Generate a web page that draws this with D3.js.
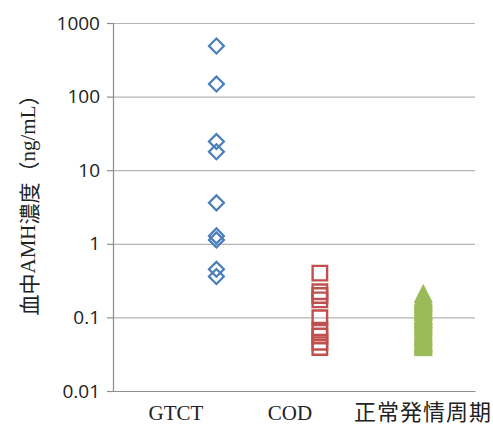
<!DOCTYPE html>
<html>
<head>
<meta charset="utf-8">
<script src="https://cdn.jsdelivr.net/npm/d3@7"></script>
<style>
  html, body { margin: 0; padding: 0; background: #fff; }
  svg { display: block; }
</style>
</head>
<body>
<svg id="chart" width="493" height="426"></svg>
<script>
// Group labels and their x positions on the numeric x axis
const groups = ["GTCT", "COD", "正常発情周期"];
const groupX = [1, 2, 3];

// Serum AMH concentrations (ng/mL) per group
const gtctValues = [487, 148, 24.5, 17.8, 3.6, 1.28, 1.13, 0.45, 0.36];
const codValues = [0.40, 0.223, 0.198, 0.173, 0.099, 0.067, 0.056, 0.046, 0.039];
const normalValues = [0.21, 0.19, 0.18, 0.17, 0.16, 0.15, 0.14, 0.13, 0.125, 0.12,
  0.11, 0.105, 0.10, 0.095, 0.09, 0.085, 0.08, 0.075, 0.07, 0.065, 0.06, 0.057,
  0.054, 0.05, 0.047, 0.045, 0.043, 0.04];

// Log axis ticks
const yTicks = [0.01, 0.1, 1, 10, 100, 1000];
const yTickLabels = ["0.01", "0.1", "1", "10", "100", "1000"];

const svg = d3.select("#chart");
const plot = { left: 113, right: 475, top: 23, bottom: 391 };

const x = d3.scaleLinear().domain([0, 3.5]).range([plot.left, plot.right]);
const y = d3.scaleLog().domain([0.01, 1000]).range([plot.bottom, plot.top]);

// Horizontal gridlines
svg.append("g")
  .attr("transform", `translate(${plot.left},0)`)
  .call(d3.axisLeft(y).tickValues(yTicks.slice(1)).tickSize(-(plot.right - plot.left)).tickFormat(""))
  .call(g => g.select(".domain").remove())
  .call(g => g.selectAll("line").attr("stroke", "#b4b4b4").attr("stroke-width", 1.2));

// Y axis with labels
svg.append("g")
  .attr("transform", `translate(${plot.left},0)`)
  .call(d3.axisLeft(y).tickValues(yTicks).tickSize(6).tickPadding(7)
    .tickFormat((d, i) => yTickLabels[i]))
  .call(g => g.select(".domain").attr("stroke", "#8e8e8e").attr("stroke-width", 1.2))
  .call(g => g.selectAll("line").attr("stroke", "#8e8e8e").attr("stroke-width", 1.2))
  .call(g => g.selectAll("text")
    .attr("fill", "#222")
    .style("font-family", "'Open Sans', sans-serif")
    .style("font-size", "19px"));

// X axis baseline
svg.append("g")
  .attr("transform", `translate(0,${plot.bottom})`)
  .call(d3.axisBottom(x).tickValues([]).tickSizeOuter(0))
  .call(g => g.select(".domain").attr("stroke", "#8e8e8e").attr("stroke-width", 1.2));

// Group labels under the axis
const labelPos = [176, 290, 423];
svg.append("g").selectAll("text")
  .data(groups)
  .join("text")
  .attr("x", (d, i) => labelPos[i])
  .attr("y", 420)
  .attr("text-anchor", "middle")
  .attr("fill", "#222")
  .style("font-family", (d, i) => i < 2 ? "'Liberation Serif', serif" : "'Noto Sans CJK JP', sans-serif")
  .style("font-size", (d, i) => i < 2 ? "21px" : "22px")
  .style("letter-spacing", (d, i) => i < 2 ? "0px" : "1px")
  .text(d => d);

// Y axis title
const title = svg.append("text")
  .attr("transform", "translate(27.5,200) rotate(-90)")
  .attr("text-anchor", "middle")
  .attr("dominant-baseline", "central")
  .attr("fill", "#222")
  .style("font-size", "21px");
const parts = [
  ["血中", "'Noto Sans CJK JP', sans-serif"],
  ["AMH", "'Liberation Serif', serif"],
  ["濃度", "'Noto Sans CJK JP', sans-serif"],
  ["（", "'Noto Sans CJK JP', sans-serif"],
  ["ng/mL", "'Liberation Serif', serif"],
  ["）", "'Noto Sans CJK JP', sans-serif"]
];
parts.forEach(([t, f]) => title.append("tspan").style("font-family", f).text(t));

// Markers
const diamond = d3.symbol().type(d3.symbolSquare).size(112);
const square = d3.symbol().type(d3.symbolSquare).size(210);
const triangleUp = {
  draw(ctx, size) {
    const w = 18, h = 18;
    ctx.moveTo(0, -h / 2);
    ctx.lineTo(w / 2, h / 2);
    ctx.lineTo(-w / 2, h / 2);
    ctx.closePath();
  }
};

svg.append("g").selectAll("path")
  .data(gtctValues)
  .join("path")
  .attr("d", diamond)
  .attr("transform", d => `translate(${x(groupX[0])},${y(d)}) rotate(45)`)
  .attr("fill", "none")
  .attr("stroke", "#4a7ebb")
  .attr("stroke-width", 2.2);

svg.append("g").selectAll("path")
  .data(codValues)
  .join("path")
  .attr("d", square)
  .attr("transform", d => `translate(${x(groupX[1])},${y(d)})`)
  .attr("fill", "none")
  .attr("stroke", "#c0504d")
  .attr("stroke-width", 2.4);

svg.append("g").selectAll("path")
  .data(normalValues)
  .join("path")
  .attr("d", d3.symbol().type(triangleUp))
  .attr("transform", d => `translate(${x(groupX[2])},${y(d)})`)
  .attr("fill", "#9bbb59")
  .attr("stroke", "#9bbb59")
  .attr("stroke-width", 1);
</script>
</body>
</html>
